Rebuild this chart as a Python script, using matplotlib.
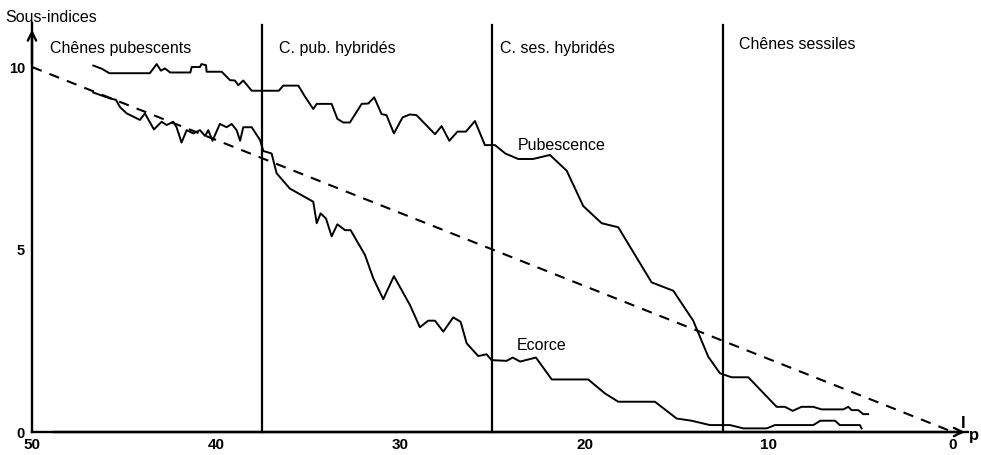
import matplotlib
matplotlib.use("Agg")
import matplotlib.pyplot as plt

plt.rcParams['font.family'] = ['Liberation Sans', 'DejaVu Sans']

# ---- data ----
pub_x = [46.67, 46.2, 45.8, 43.6, 43.23, 43.0, 42.78, 42.5, 41.4, 41.33, 40.88, 40.8, 40.55,
         40.52, 39.7, 39.25, 38.98, 38.8, 38.53, 38.07, 36.6, 36.36, 35.54, 35.18, 34.73,
         34.54, 33.73, 33.42, 33.1, 32.74, 32.1, 31.74, 31.42, 31.02, 30.75, 30.35, 29.88,
         29.48, 29.12, 28.12, 27.76, 27.34, 26.9, 26.44, 25.95, 25.41, 24.86, 24.3, 23.6,
         22.8, 21.88, 20.97, 20.07, 19.07, 18.17, 16.36, 15.18, 14.1, 13.28, 12.65, 12.02,
         11.11, 9.57, 9.12, 8.7, 8.22, 7.58, 7.13, 5.95, 5.68, 5.5, 5.14, 4.87, 4.6]
pub_y = [10.04, 9.95, 9.83, 9.83, 10.08, 9.9, 9.96, 9.85, 9.85, 10.0, 10.0, 10.08, 10.05,
         9.87, 9.87, 9.64, 9.63, 9.5, 9.63, 9.35, 9.35, 9.49, 9.49, 9.19, 8.85,
         8.99, 8.99, 8.58, 8.48, 8.48, 8.99, 9.0, 9.17, 8.71, 8.68, 8.18, 8.62,
         8.70, 8.68, 8.16, 8.38, 7.98, 8.23, 8.23, 8.52, 7.86, 7.86, 7.63, 7.48,
         7.48, 7.59, 7.16, 6.19, 5.72, 5.61, 4.1, 3.87, 3.05, 2.06, 1.61, 1.5,
         1.5, 0.69, 0.69, 0.58, 0.69, 0.69, 0.62, 0.62, 0.69, 0.6, 0.6, 0.49, 0.49]

eco_x = [46.67, 45.77, 45.44, 45.22, 44.86, 44.5, 44.14, 43.87, 43.38, 42.96, 42.69, 42.33,
         42.15, 41.88, 41.6, 41.24, 40.88, 40.6, 40.43, 40.2, 39.8, 39.43, 39.16, 38.89,
         38.7, 38.53, 38.07, 37.62, 37.44, 36.99, 36.72, 36.0, 34.73, 34.54, 34.33, 34.04,
         33.73, 33.42, 33.0, 32.7, 31.92, 31.47, 30.93, 30.35, 29.48, 28.94, 28.49, 28.12,
         27.67, 27.13, 26.73, 26.4, 25.77, 25.32, 25.05, 24.23, 23.9, 23.5, 22.64, 21.78,
         19.8, 18.9, 18.17, 16.18, 15.0, 14.19, 13.19, 12.1, 11.38, 10.11, 9.67, 7.58,
         7.2, 6.4, 6.14, 5.05, 4.96]
eco_y = [9.3, 9.14, 9.1, 8.9, 8.73, 8.64, 8.55, 8.73, 8.29, 8.5, 8.41, 8.5,
         8.35, 7.93, 8.27, 8.18, 8.27, 8.11, 8.27, 7.98, 8.44, 8.35, 8.44, 8.27,
         7.98, 8.35, 8.35, 8.0, 7.7, 7.63, 7.09, 6.67, 6.31, 5.72, 5.99, 5.85,
         5.36, 5.69, 5.53, 5.53, 4.85, 4.21, 3.64, 4.27, 3.48, 2.87, 3.05, 3.05,
         2.75, 3.14, 3.02, 2.43, 2.08, 2.13, 1.97, 1.95, 2.04, 1.93, 2.04, 1.44,
         1.44, 1.06, 0.83, 0.83, 0.37, 0.31, 0.19, 0.19, 0.1, 0.1, 0.19, 0.19,
         0.31, 0.31, 0.19, 0.19, 0.1]

ref_x = [50, 0]
ref_y = [10, 0]

boundaries = [37.5, 25, 12.5]
group_labels = ["Chênes pubescents", "C. pub. hybridés", "C. ses. hybridés", "Chênes sessiles"]
group_label_x = [49.0, 36.6, 24.6, 11.6]
group_label_y = [10.5, 10.5, 10.5, 10.62]

x_ticks = [50, 40, 30, 20, 10, 0]
y_ticks = [0, 5, 10]

# ---- figure ----
fig = plt.figure(figsize=(9.81, 4.55), dpi=100)
ax = fig.add_axes([0.0326, 0.0505, 0.9538, 0.8985])
ax.set_xlim(50, -0.8)
ax.set_ylim(0, 11.2)

for s in ['top', 'right']:
    ax.spines[s].set_visible(False)
ax.spines['left'].set_linewidth(1.7)
ax.spines['bottom'].set_linewidth(1.7)

ax.set_xticks(x_ticks)
ax.set_xticklabels([str(t) for t in x_ticks], fontweight='bold', fontsize=11)
ax.set_yticks(y_ticks)
ax.set_yticklabels([str(t) for t in y_ticks], fontweight='bold', fontsize=10.5)
ax.tick_params(axis='x', length=0, pad=4)
ax.tick_params(axis='y', length=0, pad=5)

# arrows on axes
ax.annotate('', xy=(-0.8, 0), xytext=(49, 0),
            arrowprops=dict(arrowstyle='->', lw=1.7, color='black', mutation_scale=15),
            annotation_clip=False)
ax.annotate('', xy=(50, 11.1), xytext=(50, 10.0),
            arrowprops=dict(arrowstyle='->', lw=1.7, color='black', mutation_scale=15),
            annotation_clip=False)

# reference dashed line
ax.plot(ref_x, ref_y, color='black', lw=1.5, ls=(0, (5, 4)), clip_on=False)

# group boundaries
for b in boundaries:
    ax.plot([b, b], [0, 11.15], color='black', lw=1.6, clip_on=False)

# curves
ax.plot(pub_x, pub_y, color='black', lw=1.4)
ax.plot(eco_x, eco_y, color='black', lw=1.4)

# labels
for lab, lx, ly in zip(group_labels, group_label_x, group_label_y):
    ax.text(lx, ly, lab, fontsize=11.5, ha='left', va='center')

ax.text(23.6, 7.86, "Pubescence", fontsize=11.5, ha='left', va='center')
ax.text(23.7, 2.36, "Ecorce", fontsize=11.5, ha='left', va='center')

fig.text(5 / 981, 1 - 17 / 455, "Sous-indices", fontsize=11.5, ha='left', va='center')
ax.text(-0.45, 0.02, "I", fontsize=12, fontweight='bold', ha='left', va='bottom')
ax.text(-0.85, 0.1, "p", fontsize=12, fontweight='bold', ha='left', va='top')

fig.savefig("out.png", dpi=100)
